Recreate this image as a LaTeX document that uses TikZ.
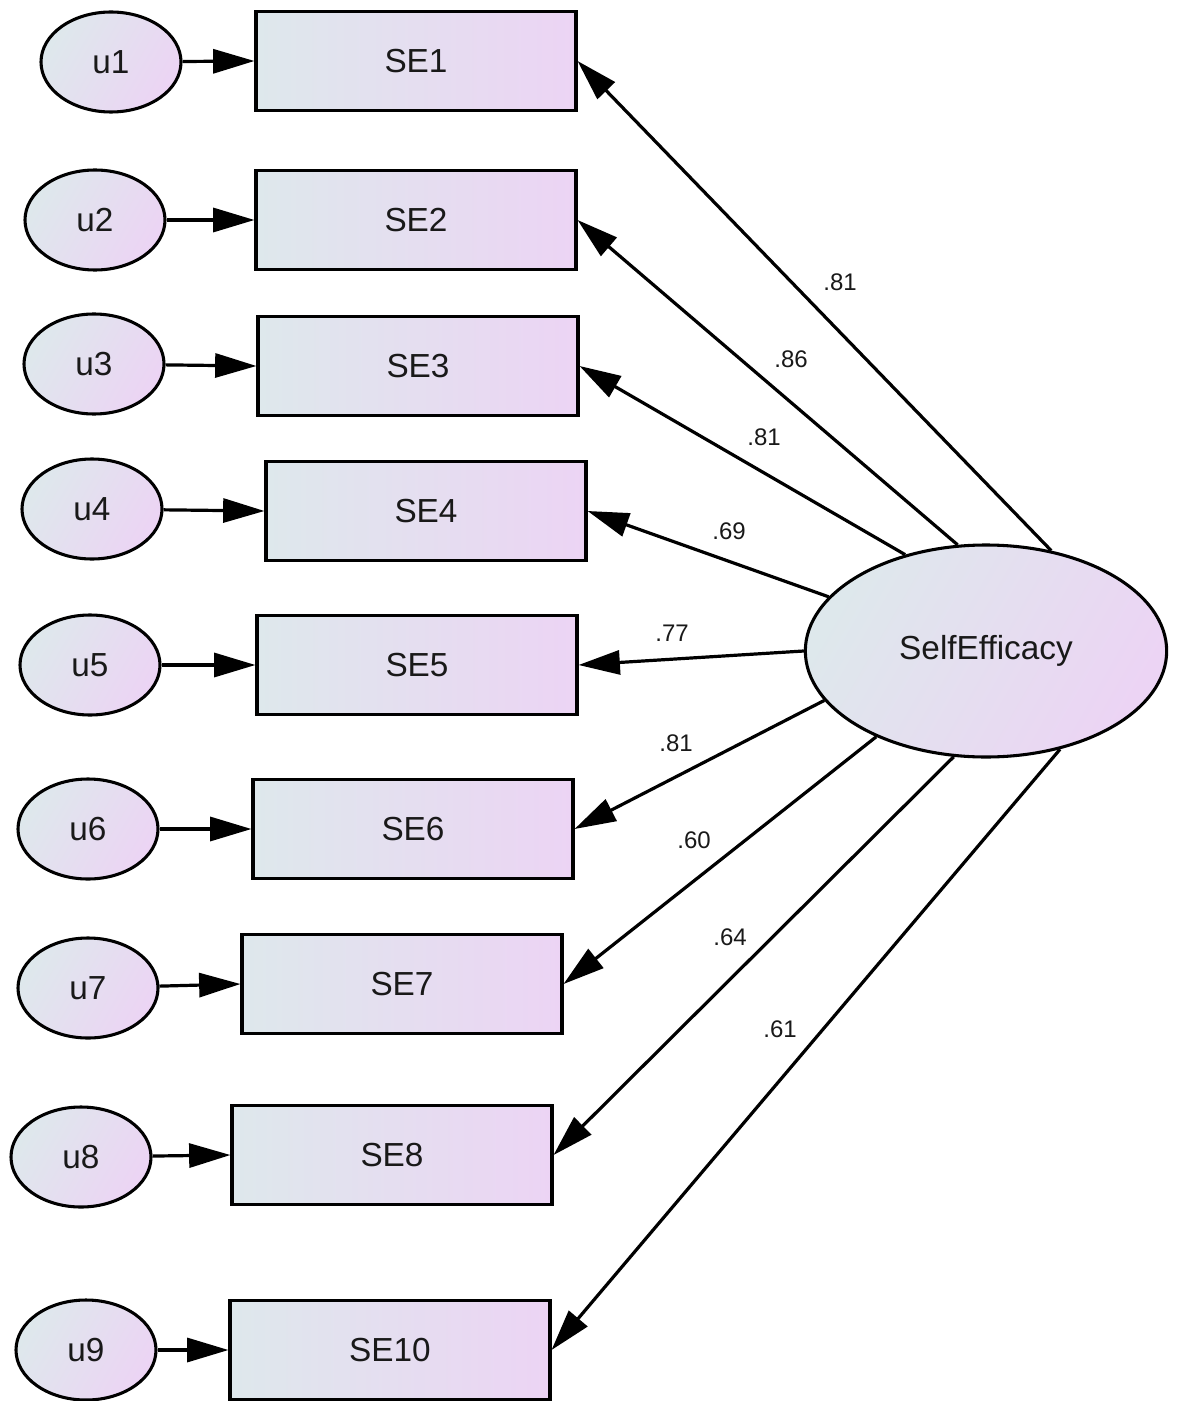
\documentclass[tikz,border=0pt]{standalone}
\usepackage{fontspec}
\setmainfont{Liberation Sans}
\usetikzlibrary{arrows.meta,shapes.geometric}
\definecolor{cA}{RGB}{222,232,236}
\definecolor{cB}{RGB}{236,212,244}
\definecolor{ink}{RGB}{25,25,25}
\begin{document}
\begin{tikzpicture}[x=0.75pt,y=-0.75pt,
  obsbox/.style={draw, rectangle, line width=2.3pt, minimum width=240pt, minimum height=74pt,
    inner sep=0pt, left color=cA, right color=cB, text=ink, font=\fontsize{25}{30}\selectfont},
  errvar/.style={draw, ellipse, line width=2.3pt, minimum width=105pt, minimum height=75pt,
    inner sep=0pt, left color=cA, right color=cB, shading angle=60, text=ink, font=\fontsize{25}{30}\selectfont},
  latvar/.style={draw, ellipse, line width=2.3pt, minimum width=271pt, minimum height=159pt,
    inner sep=0pt, left color=cA, right color=cB, shading angle=60, text=ink, font=\fontsize{25}{30}\selectfont},
  regpath/.style={line width=2.4pt, -{Triangle[length=31pt,width=18pt]}},
  coef/.style={font=\fontsize{18}{22}\selectfont, text=ink, inner sep=1pt}]
\fill[white] (0,0) rectangle (1179,1401);
\useasboundingbox (0,0) rectangle (1179,1401);

% indicators
\node[obsbox] (b1)  at (416,61)   {SE1};
\node[obsbox] (b2)  at (416,220)  {SE2};
\node[obsbox] (b3)  at (418,366)  {SE3};
\node[obsbox] (b4)  at (426,511)  {SE4};
\node[obsbox] (b5)  at (417,665)  {SE5};
\node[obsbox] (b6)  at (413,829)  {SE6};
\node[obsbox] (b7)  at (402,984)  {SE7};
\node[obsbox] (b8)  at (392,1155) {SE8};
\node[obsbox] (b10) at (390,1350) {SE10};

% unique error terms
\node[errvar] (u1) at (111,62)   {u1};
\node[errvar] (u2) at (95,220)   {u2};
\node[errvar] (u3) at (94,364)   {u3};
\node[errvar] (u4) at (92,509)   {u4};
\node[errvar] (u5) at (90,665)   {u5};
\node[errvar] (u6) at (88,829)   {u6};
\node[errvar] (u7) at (88,988)   {u7};
\node[errvar] (u8) at (81,1157)  {u8};
\node[errvar] (u9) at (86,1350)  {u9};

% latent factor
\node[latvar] (se) at (986,651) {SelfEfficacy};

% error paths
\draw[regpath] (u1) -- (b1.west);
\draw[regpath] (u2) -- (b2.west);
\draw[regpath] (u3) -- (b3.west);
\draw[regpath] (u4) -- (b4.west);
\draw[regpath] (u5) -- (b5.west);
\draw[regpath] (u6) -- (b6.west);
\draw[regpath] (u7) -- (b7.west);
\draw[regpath] (u8) -- (b8.west);
\draw[regpath] (u9) -- (b10.west);

% factor loadings
\draw[regpath] (se.57.3)  -- (b1.east);
\draw[regpath] (se.105.6) -- (b2.east);
\draw[regpath] (se.130.8) -- (b3.east);
\draw[regpath] (se.161.4) -- (b4.east);
\draw[regpath] (se.180)   -- (b5.east);
\draw[regpath] (se.197.7) -- (b6.east);
\draw[regpath] (se.218)   -- (b7.east);
\draw[regpath] (se.253.7) -- (b8.east);
\draw[regpath] (se.307.5) -- (b10.east);

% standardized estimates
\node[coef] (l1)  at (840,282)  {.81};
\node[coef] (l2)  at (791,359)  {.86};
\node[coef] (l3)  at (764,437)  {.81};
\node[coef] (l4)  at (729,531)  {.69};
\node[coef] (l5)  at (672,633)  {.77};
\node[coef] (l6)  at (676,743)  {.81};
\node[coef] (l7)  at (694,840)  {.60};
\node[coef] (l8)  at (730,937)  {.64};
\node[coef] (l10) at (780,1029) {.61};
\end{tikzpicture}
\end{document}
